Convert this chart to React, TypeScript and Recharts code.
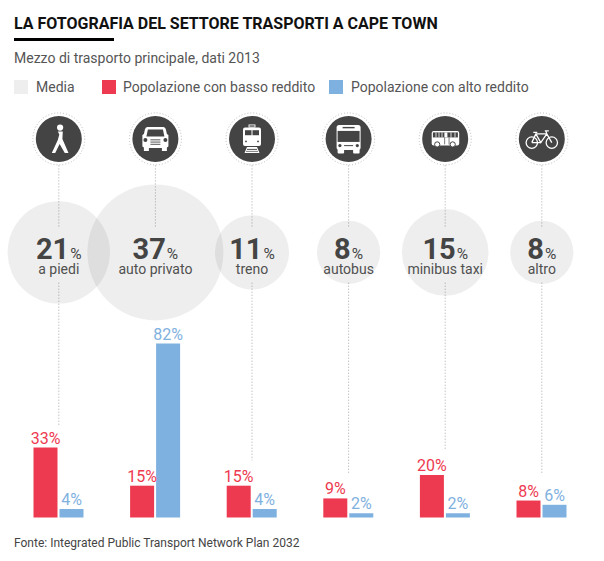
import React from "react";
import {
  ComposedChart, Bar, Scatter, XAxis, YAxis, ZAxis, LabelList, ReferenceLine,
} from "recharts";

const categories = ["a piedi", "auto privato", "treno", "autobus", "minibus taxi", "altro"];
const average = [21, 37, 11, 8, 15, 8];
const lowIncome = [33, 15, 15, 9, 20, 8];
const highIncome = [4, 82, 4, 2, 2, 6];
// where each dotted guide stops above the bars, on the same % scale (null = no lower part)
const guideEnd = [43, null, 27, 21, 31.5, 21];
const legendItems = [
  { label: "Media", color: "#eeeeee", left: 14, textLeft: 36 },
  { label: "Popolazione con basso reddito", color: "#ee3a50", left: 102, textLeft: 123 },
  { label: "Popolazione con alto reddito", color: "#7fb1e0", left: 329, textLeft: 351 },
];

const RED = "#ee3a50";
const BLUE = "#7fb1e0";
const DARK = "#444444";
const FONT = "Roboto, sans-serif";

// rows of the picture, expressed on the bars' % axis
const ICON_ROW = 178.5;
const BUBBLE_ROW = 125;
const GUIDE_TOP = 166;
const GUIDE_IN = 137;
const GUIDE_OUT = 110.7;

const data = categories.map((category, i) => ({
  category,
  average: average[i],
  low: lowIncome[i],
  high: highIncome[i],
  bubbleRow: BUBBLE_ROW,
  iconRow: ICON_ROW,
}));

function Glyph({ index }: { index: number }) {
  const w = "#ffffff";
  if (index === 0) {
    return (
      <g fill={w}>
        <circle cx={1.3} cy={-11.3} r={3.1} />
        <path d="M-1,-7.5 L4,-7.5 L3.6,0 L9.7,14 L6,14 L0.8,5 L-3.6,14 L-7,14 L-1,1 L0.5,-4.5 Z" />
      </g>
    );
  }
  if (index === 1) {
    return (
      <g>
        <path fill={w} d="M-8,-12 L8,-12 Q10,-12 10.5,-9.5 L11.5,-5 L13,-4 L13,7.5 L11.5,8.5 L11.5,12 L6.5,12 L6.5,9 L-6.5,9 L-6.5,12 L-11.5,12 L-11.5,8.5 L-13,7.5 L-13,-4 L-11.5,-5 L-10.5,-9.5 Q-10,-12 -8,-12 Z" />
        <path fill={DARK} d="M-7.5,-9.5 L7.5,-9.5 L9,-2.5 L-9,-2.5 Z" />
        <circle cx={-10} cy={1} r={2} fill={DARK} />
        <circle cx={10} cy={1} r={2} fill={DARK} />
        <rect x={-5} y={0.5} width={10} height={0.9} fill={DARK} />
        <rect x={-5} y={2.7} width={10} height={0.9} fill={DARK} />
        <rect x={-5} y={4.9} width={10} height={0.9} fill={DARK} />
      </g>
    );
  }
  if (index === 2) {
    return (
      <g>
        <rect x={-3} y={-14} width={6} height={2.2} fill="none" stroke={w} strokeWidth={0.9} />
        <rect x={-9} y={-11.5} width={18} height={18.5} rx={2} fill={w} />
        <rect x={-7} y={-8.7} width={6.5} height={5} fill={DARK} />
        <rect x={0.5} y={-8.7} width={6.5} height={5} fill={DARK} />
        <circle cx={-6} cy={2.5} r={0.9} fill={DARK} />
        <circle cx={6} cy={2.5} r={0.9} fill={DARK} />
        <path fill={w} d="M-5,8 L5,8 L7.5,14 L-7.5,14 Z" />
        <rect x={-5} y={10} width={10} height={0.9} fill={DARK} />
        <rect x={-6} y={12} width={12} height={0.7} fill={DARK} />
      </g>
    );
  }
  if (index === 3) {
    return (
      <g>
        <rect x={-12} y={-14} width={24} height={25} rx={2.5} fill={w} />
        <rect x={-11} y={10} width={6.5} height={4.7} rx={1} fill={w} />
        <rect x={4.5} y={10} width={6.5} height={4.7} rx={1} fill={w} />
        <rect x={-6} y={-12} width={12} height={1.4} fill={DARK} />
        <rect x={-11} y={-8} width={22} height={11} fill={DARK} />
        <circle cx={-8.7} cy={6.7} r={1.6} fill={DARK} />
        <circle cx={8.7} cy={6.7} r={1.6} fill={DARK} />
        <rect x={-4.5} y={6.2} width={9} height={1} fill={DARK} />
      </g>
    );
  }
  if (index === 4) {
    return (
      <g>
        <rect x={-13.5} y={-8} width={27.5} height={14.5} rx={2} fill={w} />
        <rect x={-12.3} y={-6.5} width={25} height={5} fill={DARK} />
        <rect x={-9.6} y={-6.5} width={0.8} height={5} fill={w} />
        <rect x={-6.6} y={-6.5} width={0.8} height={5} fill={w} />
        <rect x={-3.6} y={-6.5} width={0.8} height={5} fill={w} />
        <rect x={-0.8} y={-6.5} width={3} height={5} fill={w} />
        <rect x={5.4} y={-6.5} width={0.8} height={5} fill={w} />
        <rect x={9.4} y={-6.5} width={0.8} height={5} fill={w} />
        <rect x={3.5} y={-1.5} width={0.7} height={7} fill={DARK} />
        <rect x={-0.8} y={-1.5} width={0.7} height={7} fill={DARK} />
        <circle cx={-8} cy={5.5} r={2.6} fill={w} stroke={DARK} strokeWidth={1} />
        <circle cx={7.5} cy={5.5} r={2.6} fill={w} stroke={DARK} strokeWidth={1} />
      </g>
    );
  }
  return (
    <g fill="none" stroke={w} strokeWidth={1.3}>
      <circle cx={-10} cy={3.7} r={5.7} />
      <circle cx={10} cy={3.7} r={5.7} />
      <path d="M-10,3.7 L-6,-5 L5,-5 L10,3.7 M-6,-5 L-1,3.7 L5,-5 M-1,3.7 L-10,3.7 M4,-8 L5,-5 M3,-8 L7,-8 M-8.5,-6.5 L-4.5,-6.5" />
    </g>
  );
}

function IconShape(props: any) {
  const { cx, cy, index } = props;
  return (
    <g transform={`translate(${cx},${cy})`}>
      <circle r={26} fill="none" stroke="#bbbbbb" strokeWidth={1} strokeDasharray="1 2" />
      <circle r={23} fill={DARK} />
      <Glyph index={index} />
    </g>
  );
}

function BubbleShape(props: any) {
  const { cx, cy, width, payload } = props;
  return (
    <g>
      <circle cx={cx} cy={cy} r={width / 2} fill="#000000" fillOpacity={0.065} />
      <text x={cx} y={cy + 6.5} textAnchor="middle" fontFamily={FONT} fill={DARK}>
        <tspan fontSize={29} fontWeight={700}>{payload.average}</tspan>
        <tspan fontSize={15.5} dx={1}>%</tspan>
      </text>
      <text x={cx} y={cy + 21.5} textAnchor="middle" fontFamily={FONT} fontSize={14} fill="#505050">
        {payload.category}
      </text>
    </g>
  );
}

const pct = (v: any) => `${v}%`;

function Guide({ category, from, to }: { category: string; from: number; to: number }) {
  return (
    <ReferenceLine
      segment={[{ x: category, y: from }, { x: category, y: to }]}
      stroke="#aaaaaa"
      strokeWidth={1}
      strokeDasharray="1 2"
    />
  );
}

export default function App() {
  return (
    <div style={{ position: "absolute", left: 0, top: 0, width: 604, height: 561, background: "#fff", fontFamily: FONT }}>
      <div style={{ position: "absolute", left: 14, top: 15, fontSize: 16, lineHeight: "18px", fontWeight: 700, color: "#111", whiteSpace: "nowrap" }}>
        LA FOTOGRAFIA DEL SETTORE TRASPORTI A CAPE TOWN
      </div>
      <div style={{ position: "absolute", left: 13.5, top: 38, width: 100, height: 3, background: "#000" }} />
      <div style={{ position: "absolute", left: 14, top: 50, fontSize: 14, lineHeight: "17px", color: "#555", whiteSpace: "nowrap" }}>
        Mezzo di trasporto principale, dati 2013
      </div>
      {legendItems.map((item) => (
        <React.Fragment key={item.label}>
          <div style={{ position: "absolute", left: item.left, top: 80, width: 14, height: 14, background: item.color }} />
          <div style={{ position: "absolute", left: item.textLeft, top: 79, fontSize: 14, lineHeight: "17px", color: "#555", whiteSpace: "nowrap" }}>
            {item.label}
          </div>
        </React.Fragment>
      ))}
      <div style={{ position: "absolute", left: 14, top: 536, fontSize: 12, lineHeight: "15px", color: "#444", whiteSpace: "nowrap" }}>
        Fonte: Integrated Public Transport Network Plan 2032
      </div>

      <div style={{ position: "absolute", left: 0, top: 0 }}>
        <ComposedChart
          width={604}
          height={561}
          data={data}
          margin={{ top: 0, right: 13.9, bottom: 43.5, left: 10.5 }}
          barSize={24}
          barGap={2}
        >
          <XAxis dataKey="category" type="category" hide />
          <YAxis type="number" domain={[0, 244]} hide />
          <ZAxis dataKey="average" type="number" domain={[0, 37]} range={[0, 14527]} />
          {categories.map((c) => (
            <Guide key={c} category={c} from={GUIDE_TOP} to={GUIDE_IN} />
          ))}
          {categories.map((c, i) =>
            guideEnd[i] === null ? null : (
              <Guide key={c + "-low"} category={c} from={GUIDE_OUT} to={guideEnd[i] as number} />
            )
          )}
          <Bar dataKey="low" fill={RED} isAnimationActive={false}>
            <LabelList dataKey="low" position="top" offset={4} formatter={pct} fill={RED} fontSize={16} fontFamily={FONT} />
          </Bar>
          <Bar dataKey="high" fill={BLUE} isAnimationActive={false}>
            <LabelList dataKey="high" position="top" offset={4} formatter={pct} fill={BLUE} fontSize={16} fontFamily={FONT} />
          </Bar>
          <Scatter dataKey="bubbleRow" shape={BubbleShape} isAnimationActive={false} />
          <Scatter dataKey="iconRow" shape={IconShape} isAnimationActive={false} />
        </ComposedChart>
      </div>
    </div>
  );
}
